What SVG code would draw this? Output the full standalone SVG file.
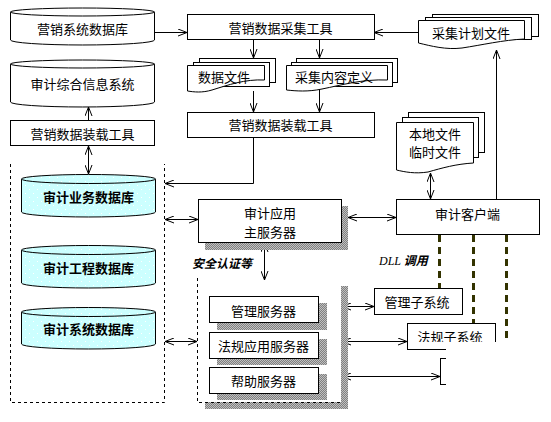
<svg xmlns="http://www.w3.org/2000/svg" width="551" height="422" viewBox="0 0 551 422">
<style>
.n{fill:#fff;stroke:#000;stroke-width:1}
.c{fill:#ccffff;stroke:#000;stroke-width:1}
.cd{fill:url(#dots);stroke:#000;stroke-width:1}
.t{font-family:"Noto Sans CJK SC","Liberation Sans",sans-serif;font-size:13px;fill:#000;text-anchor:middle;dominant-baseline:central}
.b{font-weight:bold}
.l{fill:none;stroke:#000;stroke-width:1}
.a{marker-end:url(#ah)}
.aa{marker-end:url(#ah);marker-start:url(#ah)}
.dash{fill:none;stroke:#000;stroke-width:1;stroke-dasharray:3 3}
.dll{fill:none;stroke:#333300;stroke-width:3;stroke-dasharray:7 5}
.sh{fill:url(#shp)}
</style>
<defs>
<marker id="ah" viewBox="0 0 9 8" refX="9" refY="4" markerWidth="9" markerHeight="8" markerUnits="userSpaceOnUse" orient="auto-start-reverse">
<path d="M0,0.5 L9,4 L0,7.5" fill="none" stroke="#000" stroke-width="1"/>
</marker>
<pattern id="shp" width="2" height="2" patternUnits="userSpaceOnUse">
<rect width="2" height="2" fill="#808080"/>
<rect width="1" height="1" fill="#c0c0c0"/>
<rect x="1" y="1" width="1" height="1" fill="#c0c0c0"/>
</pattern>
<pattern id="dots" width="8" height="8" patternUnits="userSpaceOnUse">
<rect width="8" height="8" fill="#ccffff"/>
<rect x="1" y="1" width="1" height="1" fill="#fff"/>
<rect x="5" y="5" width="1" height="1" fill="#fff"/>
</pattern>
<clipPath id="cutfg"><rect x="0" y="0" width="551" height="342"/></clipPath>
</defs>

<!-- containers -->
<g id="container-db">
<path class="dash" d="M10.5,164 V402.5 H164.5 V164"/>
</g>

<!-- connectors -->
<g id="connectors">
<line class="l a" x1="155" y1="32.5" x2="187" y2="32.5"/>
<line class="l a" x1="418" y1="32.5" x2="374" y2="32.5"/>
<line class="l a" x1="253.5" y1="39" x2="253.5" y2="58"/>
<line class="l a" x1="319.5" y1="39" x2="319.5" y2="58"/>
<line class="l a" x1="253.5" y1="91" x2="253.5" y2="112"/>
<line class="l a" x1="319.5" y1="88" x2="319.5" y2="112"/>
<line class="l a" x1="88.5" y1="120" x2="88.5" y2="107"/>
<line class="l aa" x1="88.5" y1="146" x2="88.5" y2="174"/>
<path class="l a" d="M253.5,137 V183.5 H165"/>
<line class="l aa" x1="165" y1="219.5" x2="198" y2="219.5"/>
<line class="l aa" x1="264.5" y1="243" x2="264.5" y2="280"/>
<line class="l aa" x1="165" y1="341.5" x2="197" y2="341.5"/>
<line class="l aa" x1="348" y1="217.5" x2="396" y2="217.5"/>
<line class="l aa" x1="430.5" y1="173" x2="430.5" y2="199"/>
<line class="l a" x1="496.5" y1="199" x2="496.5" y2="50"/>
<line class="l aa" x1="342" y1="306.5" x2="374" y2="306.5"/>
<line class="l aa" x1="342" y1="341.5" x2="407" y2="341.5"/>
<line class="l aa" x1="342" y1="376.5" x2="440" y2="376.5"/>
<line class="dll" x1="439.5" y1="235" x2="439.5" y2="288"/>
<line class="dll" x1="473.5" y1="235" x2="473.5" y2="323"/>
<line class="dll" x1="506.5" y1="235" x2="506.5" y2="342"/>
</g>

<!-- top-left cylinders -->
<g id="db-marketing">
<path class="n" d="M10.5,12 V40 A72,5 0 0 0 154.5,40 V12"/>
<ellipse class="n" cx="82.5" cy="12" rx="72" ry="4"/>
<text class="t" x="82.5" y="28">营销系统数据库</text>
</g>
<g id="db-audit-info">
<path class="n" d="M10.5,64 V102 A72,5 0 0 0 154.5,102 V64"/>
<ellipse class="n" cx="82.5" cy="64" rx="72" ry="4"/>
<text class="t" x="82.5" y="83">审计综合信息系统</text>
</g>
<g id="load-tool-left">
<rect class="n" x="10.5" y="120.5" width="144" height="25"/>
<text class="t" x="82.5" y="133">营销数据装载工具</text>
</g>

<!-- cyan dbs -->
<g id="db-business">
<path class="cd" d="M21.5,179 V212 A67,5 0 0 0 155.5,212 V179"/>
<ellipse class="cd" cx="88.5" cy="179" rx="67" ry="4.5"/>
<text class="t b" x="88.5" y="196">审计业务数据库</text>
</g>
<g id="db-project">
<path class="cd" d="M21.5,250 V283 A67,5 0 0 0 155.5,283 V250"/>
<ellipse class="cd" cx="88.5" cy="250" rx="67" ry="4.5"/>
<text class="t b" x="88.5" y="267">审计工程数据库</text>
</g>
<g id="db-system">
<path class="cd" d="M21.5,312 V344 A67,5 0 0 0 155.5,344 V312"/>
<ellipse class="cd" cx="88.5" cy="312" rx="67" ry="4.5"/>
<text class="t b" x="88.5" y="328">审计系统数据库</text>
</g>

<!-- collect tool -->
<g id="collect-tool">
<rect class="n" x="187.5" y="14.5" width="187" height="25"/>
<text class="t" x="280.5" y="27">营销数据采集工具</text>
</g>

<g id="data-file">
<rect class="n" x="199.5" y="58.5" width="76" height="24"/>
<rect class="n" x="193.5" y="62.5" width="76" height="24"/>
<path class="n" d="M187.5,65.5 H264.5 V80 C245,79 228,85 212,90 C202,93 194,92 187.5,91 Z"/>
<text class="t" x="224" y="76">数据文件</text>
</g>

<g id="collect-def">
<rect class="n" x="296.5" y="58.5" width="101" height="24"/>
<rect class="n" x="291.5" y="62.5" width="101" height="24"/>
<path class="n" d="M286.5,65.5 H387.5 V80 C362,79 342,85 322,89 C308,92 296,91 286.5,90 Z"/>
<text class="t" x="334" y="76">采集内容定义</text>
</g>

<g id="load-tool">
<rect class="n" x="187.5" y="112.5" width="187" height="25"/>
<text class="t" x="280.5" y="124">营销数据装载工具</text>
</g>

<g id="plan-file">
<rect class="n" x="432.5" y="14.5" width="106" height="22"/>
<rect class="n" x="425.5" y="17.5" width="106" height="22"/>
<path class="n" d="M418.5,20.5 H524.5 V39 C503,40 482,45 462,48 C446,50 431,46 418.5,43 Z"/>
<text class="t" x="471" y="32">采集计划文件</text>
</g>

<g id="local-file">
<rect class="n" x="408.5" y="112.5" width="76" height="40"/>
<rect class="n" x="402.5" y="117.5" width="76" height="40"/>
<path class="n" d="M396.5,122.5 H473.5 V163 C456,164 442,168 428,172 C415,174 405,172 396.5,170 Z"/>
<text class="t" x="435" y="133">本地文件</text>
<text class="t" x="435" y="151">临时文件</text>
</g>

<g id="main-server">
<rect class="sh" x="205" y="206" width="143" height="44"/>
<rect class="n" x="198.5" y="199.5" width="143" height="43"/>
<text class="t" x="270" y="212">审计应用</text>
<text class="t" x="270" y="231">主服务器</text>
</g>

<g id="client">
<rect class="n" x="396.5" y="199.5" width="143" height="35"/>
<text class="t" x="467.5" y="213">审计客户端</text>
</g>

<g id="server-group">
<rect class="sh" x="341" y="286" width="7" height="123"/>
<rect class="sh" x="205" y="402" width="143" height="7"/>
<path class="dash" d="M197.5,278 V402.5 H341"/>
<text x="192" y="268" font-family="Noto Sans CJK SC, sans-serif" font-size="12" font-weight="bold" font-style="italic">安全认证等</text>
</g>

<g id="mgmt-server">
<rect class="sh" x="217" y="303" width="110" height="27"/>
<rect class="n" x="209.5" y="296.5" width="109" height="26"/>
<text class="t" x="263.5" y="310">管理服务器</text>
</g>
<g id="law-server">
<rect class="sh" x="217" y="339" width="110" height="26"/>
<rect class="n" x="209.5" y="332.5" width="109" height="26"/>
<text class="t" x="263.5" y="345">法规应用服务器</text>
</g>
<g id="help-server">
<rect class="sh" x="217" y="374" width="110" height="26"/>
<rect class="n" x="209.5" y="367.5" width="109" height="26"/>
<text class="t" x="263.5" y="380">帮助服务器</text>
</g>

<g id="mgmt-sub">
<rect class="n" x="374.5" y="288.5" width="88" height="26"/>
<text class="t" x="417" y="301">管理子系统</text>
</g>
<g id="law-sub">
<rect class="n" x="407.5" y="323.5" width="88" height="26"/>
<text class="t" x="450" y="336" clip-path="url(#cutfg)">法规子系统</text>
</g>
<g id="help-sub">
<rect class="n" x="440.5" y="358.5" width="88" height="26"/>
</g>
<rect x="446" y="342" width="105" height="80" fill="#fff"/>

<g id="dll-label">
<text x="379" y="265" font-size="12" font-style="italic"><tspan font-family="Liberation Serif, serif">DLL </tspan><tspan font-family="Noto Sans CJK SC, sans-serif" font-weight="bold">调用</tspan></text>
</g>
</svg>
